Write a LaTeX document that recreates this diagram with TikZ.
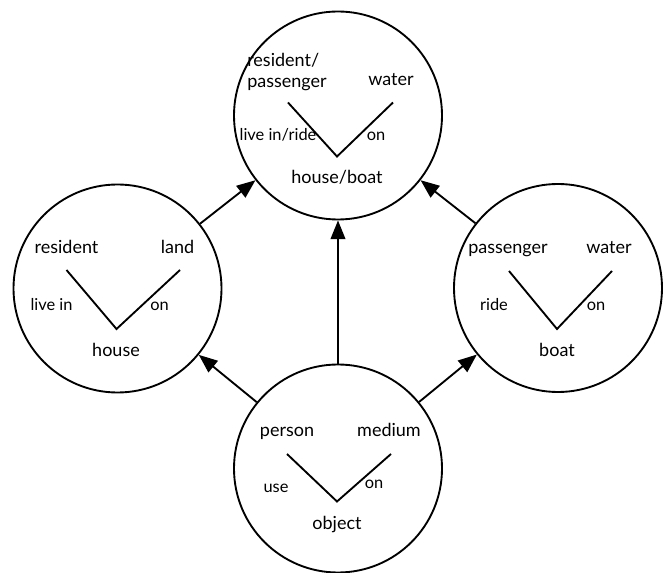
\documentclass[tikz,border=0pt]{standalone}
\usepackage{fontspec}
\setmainfont{Lato}
\usetikzlibrary{arrows.meta,positioning}
\tikzstyle{frame} = [draw, circle, line width=1.4pt, minimum size=156pt, inner sep=0pt]
\tikzstyle{word} = [font=\fontsize{13.5}{15.75}\selectfont, inner sep=0pt, text height=9pt, text depth=3pt]
\tikzstyle{rel} = [font=\fontsize{12.3}{13}\selectfont, inner sep=0pt, text height=8pt, text depth=2.6pt]
\tikzstyle{arm} = [line width=1.4pt]
\tikzstyle{arr} = [-{Triangle[length=14pt,width=11pt]}, line width=1.4pt]

\begin{document}
\begin{tikzpicture}[x=0.75pt,y=0.75pt]
\useasboundingbox (0,0) rectangle (664,-573);

\node[frame] (hb) at (338,-115.5) {};
\node[frame] (house) at (117.5,-288.5) {};
\node[frame] (boat) at (558,-288) {};
\node[frame] (obj) at (338,-468.5) {};

% house/boat
\coordinate (hb-l) at ([shift={(-50,13)}]hb.center);
\coordinate (hb-v) at ([shift={(-1,-41)}]hb.center);
\coordinate (hb-r) at ([shift={(55,13)}]hb.center);
\draw[arm] (hb-l) -- (hb-v) -- (hb-r);
\node[font=\fontsize{13.5}{15.75}\selectfont, inner sep=0pt, align=left] (hb-a) at ([shift={(-51,43.5)}]hb.center) {resident/\\passenger};
\node[word] (hb-b) at ([shift={(53,34)}]hb.center) {water};
\node[rel] (hb-p) at ([shift={(-60,-21)}]hb.center) {live in/ride};
\node[rel] (hb-q) at ([shift={(38,-21)}]hb.center) {on};
\node[word] (hb-n) at ([shift={(-1,-64.5)}]hb.center) {house/boat};

% house
\coordinate (house-l) at ([shift={(-51,18.5)}]house.center);
\coordinate (house-v) at ([shift={(-1,-40.5)}]house.center);
\coordinate (house-r) at ([shift={(62.5,18.5)}]house.center);
\draw[arm] (house-l) -- (house-v) -- (house-r);
\node[word] (house-a) at ([shift={(-51,38.5)}]house.center) {resident};
\node[word] (house-b) at ([shift={(60,38.5)}]house.center) {land};
\node[rel] (house-p) at ([shift={(-66,-18)}]house.center) {live in};
\node[rel] (house-q) at ([shift={(42,-18)}]house.center) {on};
\node[word] (house-n) at ([shift={(-1.5,-64)}]house.center) {house};

% boat
\coordinate (boat-l) at ([shift={(-49,17)}]boat.center);
\coordinate (boat-v) at ([shift={(-1,-41)}]boat.center);
\coordinate (boat-r) at ([shift={(54,17)}]boat.center);
\draw[arm] (boat-l) -- (boat-v) -- (boat-r);
\node[word] (boat-a) at ([shift={(-50,38)}]boat.center) {passenger};
\node[word] (boat-b) at ([shift={(51,38)}]boat.center) {water};
\node[rel] (boat-p) at ([shift={(-64,-19)}]boat.center) {ride};
\node[rel] (boat-q) at ([shift={(38,-19)}]boat.center) {on};
\node[word] (boat-n) at ([shift={(-1,-64.7)}]boat.center) {boat};

% object
\coordinate (obj-l) at ([shift={(-51,14.5)}]obj.center);
\coordinate (obj-v) at ([shift={(-1,-33)}]obj.center);
\coordinate (obj-r) at ([shift={(53,14.5)}]obj.center);
\draw[arm] (obj-l) -- (obj-v) -- (obj-r);
\node[word] (obj-a) at ([shift={(-51,36)}]obj.center) {person};
\node[word] (obj-b) at ([shift={(51,36)}]obj.center) {medium};
\node[rel] (obj-p) at ([shift={(-62,-20)}]obj.center) {use};
\node[rel] (obj-q) at ([shift={(36,-16.5)}]obj.center) {on};
\node[word] (obj-n) at ([shift={(-1,-56.5)}]obj.center) {object};

\draw[arr] (obj) -- (hb);
\draw[arr] (obj) -- (house);
\draw[arr] (obj) -- (boat);
\draw[arr] (house) -- (hb);
\draw[arr] (boat) -- (hb);
\end{tikzpicture}
\end{document}
